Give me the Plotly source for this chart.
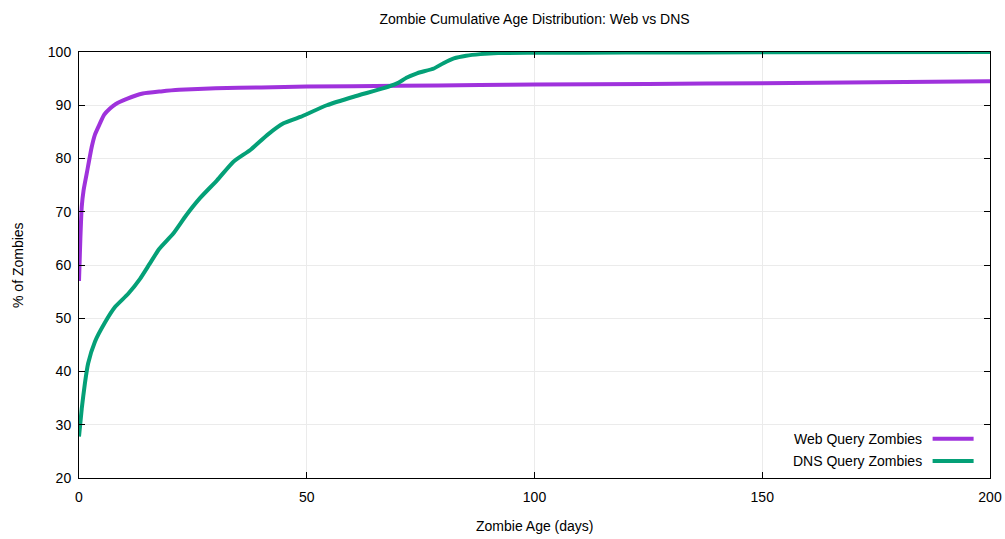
import plotly.graph_objects as go

web_days = [0, 0.3, 0.6, 1.0, 1.7, 2.8, 3.5, 4.6, 5.5, 6.8, 8.0, 10.5, 14, 18, 22, 30, 40, 50, 70, 88, 100, 125, 150, 175, 200]
web_pct = [57.0, 65.0, 70.9, 74.0, 77.2, 82.2, 84.5, 86.6, 88.2, 89.4, 90.2, 91.2, 92.2, 92.6, 92.9, 93.2, 93.35, 93.5, 93.65, 93.8, 93.9, 94.0, 94.15, 94.3, 94.5]

dns_days = [0, 0.6, 1.3, 2.0, 3.5, 5.7, 7.9, 10.8, 13.4, 15.5, 17.6, 20.7, 23.5, 26.6, 30.3, 33.9, 37.6, 41.3, 44.9, 48.6, 54.4, 60.3, 66.9, 69.8, 72.0, 74.2, 77.9, 80.0, 82.3, 85.0, 88.1, 92.0, 100, 120, 150, 200]
dns_pct = [27.8, 33.0, 37.8, 41.5, 45.6, 49.2, 52.1, 54.6, 57.4, 60.2, 63.0, 65.9, 69.3, 72.6, 75.9, 79.4, 81.6, 84.4, 86.6, 87.8, 90.0, 91.6, 93.2, 94.1, 95.2, 96.0, 96.9, 97.9, 98.8, 99.3, 99.6, 99.8, 99.85, 99.9, 99.95, 100.0]

series_names = ["Web Query Zombies", "DNS Query Zombies"]
series_colors = ["#9f32dc", "#04a077"]

x_ticks = [0, 50, 100, 150, 200]
y_ticks = [20, 30, 40, 50, 60, 70, 80, 90, 100]

font_family = "Liberation Sans, Arial, Helvetica, sans-serif"
fsize = 14

fig = go.Figure()
for name, xs, ys, col in [(series_names[0], web_days, web_pct, series_colors[0]),
                          (series_names[1], dns_days, dns_pct, series_colors[1])]:
    fig.add_trace(go.Scatter(x=xs, y=ys, mode="lines", name=name,
                             line=dict(color=col, width=4, shape="spline", smoothing=0.5),
                             showlegend=False))

axis_common = dict(showline=True, linecolor="black", linewidth=1, mirror="ticks",
                   ticks="inside", ticklen=6, tickcolor="black", tickwidth=1,
                   showgrid=True, gridcolor="#ebebeb", gridwidth=1, zeroline=False,
                   automargin=False,
                   tickfont=dict(family=font_family, size=fsize, color="black"))

fig.update_xaxes(range=[0, 200], tickvals=x_ticks, ticklabelstandoff=6, **axis_common)
fig.update_yaxes(range=[20, 100], tickvals=y_ticks, ticklabelstandoff=4, **axis_common)

# axis titles
fig.add_annotation(x=0.5, y=-0.113, xref="paper", yref="paper", text="Zombie Age (days)",
                   showarrow=False, xanchor="center", yanchor="middle",
                   font=dict(family=font_family, size=fsize, color="black"))
fig.add_annotation(x=-0.067, y=0.5, xref="paper", yref="paper", text="% of Zombies", textangle=-90,
                   showarrow=False, xanchor="center", yanchor="middle",
                   font=dict(family=font_family, size=fsize, color="black"))

# manual gnuplot-style legend (text on the left, sample line on the right)
legend_y = [0.092, 0.040]
for name, col, ly in zip(series_names, series_colors, legend_y):
    fig.add_annotation(x=0.9275, y=ly, xref="paper", yref="paper", text=name, showarrow=False,
                       xanchor="right", yanchor="middle",
                       font=dict(family=font_family, size=fsize, color="black"))
    fig.add_shape(type="line", xref="paper", yref="paper", x0=0.937, x1=0.982, y0=ly, y1=ly,
                  line=dict(color=col, width=4))

fig.update_layout(
    width=1005, height=539,
    margin=dict(l=79, r=15, t=52, b=61, autoexpand=False),
    paper_bgcolor="white", plot_bgcolor="white",
    title=dict(text="Zombie Cumulative Age Distribution: Web vs DNS", x=0.5, xanchor="center",
               xref="paper", y=0.965, yanchor="middle",
               font=dict(family=font_family, size=fsize, color="black")),
)

fig.write_html("out.html")
